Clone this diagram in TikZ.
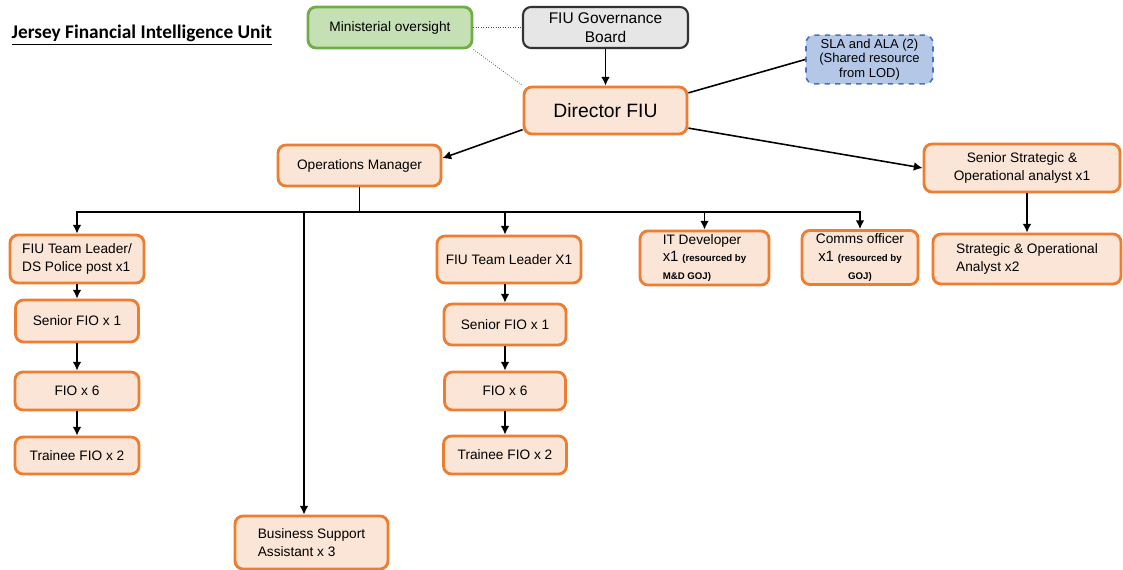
\documentclass[tikz,border=0pt]{standalone}
\usepackage{fontspec}
\setmainfont{Liberation Sans}
\newfontfamily\titlefont{Carlito}
\usetikzlibrary{arrows,arrows.meta}
\definecolor{postorange}{HTML}{ED7D31}
\definecolor{postfill}{HTML}{FBE5D6}
\definecolor{ministergreen}{HTML}{70AD47}
\definecolor{ministerfill}{HTML}{C5E0B4}
\definecolor{boardgrey}{HTML}{E7E6E6}
\definecolor{shareblue}{HTML}{B4C7E7}
\definecolor{sharedash}{HTML}{4472C4}
\newcommand{\resnote}[1]{{\fontsize{5.5}{6.5}\selectfont\bfseries #1}}

\begin{document}
\begin{tikzpicture}[x=0.02cm, y=-0.02cm, >={Latex[length=5pt,width=5pt]}, line width=0.9pt,
	post node/.style={rectangle, rounded corners=0.16cm, draw=postorange, fill=postfill, line width=1.6pt, font=\fontsize{7.8}{10}\selectfont, align=center, inner sep=2pt},
	oversight node/.style={post node, draw=ministergreen, fill=ministerfill},
	board node/.style={post node, draw=black!80, fill=boardgrey, line width=1.2pt, font=\fontsize{8.8}{10.5}\selectfont},
	shared node/.style={post node, draw=sharedash, fill=shareblue, dashed, line width=0.9pt, font=\fontsize{7.4}{8.4}\selectfont},
	dotted link/.style={densely dotted, thin, black!70}]
	\useasboundingbox (0,0) rectangle (1123,570);
	
	%title
	\node[anchor=west, font=\titlefont\bfseries\fontsize{11}{13}\selectfont] (title) at (5,35) {\underline{Jersey Financial Intelligence Unit}};
	
	%top of the unit
	\node[oversight node, minimum width=3.28cm, minimum height=0.82cm] (minis) at (390,27.5) {Ministerial oversight};
	\node[board node, minimum width=3.30cm, minimum height=0.82cm] (board) at (605.5,27.5) {FIU Governance\\Board};
	\node[shared node, minimum width=2.54cm, minimum height=0.90cm] (sla) at (869.5,59.5) {SLA and ALA (2)\\(Shared resource\\from LOD)};
	\node[post node, minimum width=3.26cm, minimum height=0.94cm, font=\fontsize{11}{13}\selectfont] (director) at (605.5,110.5) {Director FIU};
	
	%second tier
	\node[post node, minimum width=3.26cm, minimum height=0.82cm] (opsman) at (359.5,165.5) {Operations Manager};
	\node[post node, minimum width=3.92cm, minimum height=0.96cm] (snrstrat) at (1022,168) {Senior Strategic \&\\Operational analyst x1};
	\node[post node, minimum width=3.76cm, minimum height=1.00cm, align=left] (stratanalyst) at (1027,259) {Strategic \& Operational\\Analyst x2};
	
	%left team
	\node[post node, minimum width=2.68cm, minimum height=0.96cm, align=left] (tlleft) at (77,259) {FIU Team Leader/\\DS Police post x1};
	\node[post node, minimum width=2.46cm, minimum height=0.84cm] (snrleft) at (77,321) {Senior FIO x 1};
	\node[post node, minimum width=2.48cm, minimum height=0.76cm] (fioleft) at (77,391) {FIO x 6};
	\node[post node, minimum width=2.48cm, minimum height=0.74cm] (traineeleft) at (77,455.5) {Trainee FIO x 2};
	
	%middle team
	\node[post node, minimum width=2.88cm, minimum height=0.94cm] (tlmid) at (509,259.5) {FIU Team Leader X1};
	\node[post node, minimum width=2.44cm, minimum height=0.82cm] (snrmid) at (505,324.5) {Senior FIO x 1};
	\node[post node, minimum width=2.42cm, minimum height=0.76cm] (fiomid) at (505,391) {FIO x 6};
	\node[post node, minimum width=2.46cm, minimum height=0.76cm] (traineemid) at (505,455) {Trainee FIO x 2};
	
	%support posts
	\node[post node, minimum width=3.06cm, minimum height=1.06cm, align=left] (bsa) at (311.5,542.5) {Business Support\\Assistant x 3};
	\node[post node, minimum width=2.58cm, minimum height=0.96cm, align=left] (itdev) at (704.5,258) {IT Developer\\{\fontsize{8.5}{10}\selectfont x1} \resnote{(resourced by}\\\resnote{M\&D GOJ)}};
	\node[post node, minimum width=2.32cm, minimum height=0.94cm] (comms) at (860,257.5) {Comms officer\\{\fontsize{8.5}{10}\selectfont x1} \resnote{(resourced by}\\\resnote{GOJ)}};
	
	%oversight links
	\draw[dotted link] (minis.east) -- (board.west);
	\draw[dotted link] (minis.south east) -- (director.north west);
	\draw[->] (board.south) -- (director.north);
	\draw (director.12) -- (sla.west);
	
	%director to second tier
	\draw[->] (director.193) -- (opsman.5);
	\draw[->] (director.-12) -- (snrstrat.west);
	\draw[->] (stratanalyst.north |- snrstrat.south) -- (stratanalyst.north);
	
	%operations bus
	\coordinate (bus) at (359.5,212);
	\draw (opsman.south) -- (bus);
	\draw[->] (bus) -| (tlleft.north);
	\draw[->] (bus) -| ([xshift=-0.15cm]bsa.north);
	\draw[->] (bus) -| ([xshift=-0.08cm]tlmid.north);
	\draw[->] (bus) -| (itdev.north);
	\draw[->] (bus) -| (comms.north);
	
	%team chains
	\draw[->] (tlleft.south) -- (snrleft.north);
	\draw[->] (snrleft.south) -- (fioleft.north);
	\draw[->] (fioleft.south) -- (traineeleft.north);
	\draw[->] (snrmid.north |- tlmid.south) -- (snrmid.north);
	\draw[->] (snrmid.south) -- (fiomid.north);
	\draw[->] (fiomid.south) -- (traineemid.north);
\end{tikzpicture}
\end{document}
